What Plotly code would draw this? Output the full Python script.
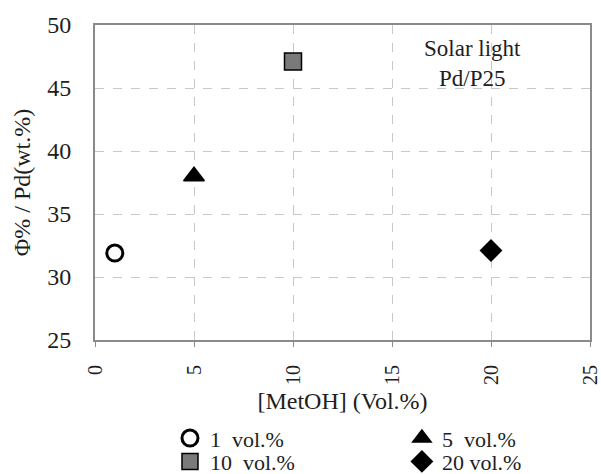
import plotly.graph_objects as go

names = ["1  vol.%", "5  vol.%", "10  vol.%", "20 vol.%"]
x_vals = [1, 5, 10, 20]
y_vals = [31.9, 38.0, 47.1, 32.1]
symbols = ["circle-open", "triangle-up", "square", "diamond"]
fills = ["black", "black", "#7a7a7a", "black"]
sizes = [16, 18, 17, 16]
legend_ids = ["legend", "legend2", "legend3", "legend4"]

FONT = "Liberation Serif"
TXT = "#1e1e1e"
fig = go.Figure()
for n, x, y, s, c, sz, lg in zip(names, x_vals, y_vals, symbols, fills, sizes, legend_ids):
    fig.add_trace(go.Scatter(
        x=[x], y=[y], mode="markers", name=n, legend=lg,
        marker=dict(symbol=s, size=sz, color=c,
                    line=dict(color="black", width=3 if s == "circle-open" else 1.5)),
    ))

def leg(x, y):
    return dict(orientation="v", yanchor="middle", y=y, xanchor="left", x=x,
                font=dict(family=FONT, size=22, color=TXT), itemwidth=30,
                tracegroupgap=0, bgcolor="rgba(0,0,0,0)")

c1, c2 = 0.1515, 0.62
r1, r2 = -0.312, -0.386

fig.update_layout(
    width=601, height=474,
    margin=dict(l=95, r=11, t=25, b=134, autoexpand=False),
    paper_bgcolor="white", plot_bgcolor="white",
    font=dict(family=FONT, size=22, color=TXT),
    showlegend=True,
    legend=leg(c1, r1), legend2=leg(c2, r1),
    legend3=leg(c1, r2), legend4=leg(c2, r2),
    xaxis=dict(range=[0, 25], dtick=5, tickangle=-90, showgrid=True,
               gridcolor="#c8c8c8", griddash="dash", gridwidth=1,
               showline=True, linecolor="#8a8a8a", linewidth=2, mirror=True,
               ticks="outside", ticklen=5, tickcolor="#8a8a8a", zeroline=False,
               ticklabelstandoff=10, tickfont=dict(family=FONT, size=20, color=TXT),
               title=dict(text="[MetOH] (Vol.%)", font=dict(family=FONT, size=24, color=TXT), standoff=8)),
    yaxis=dict(range=[25, 50], dtick=5, showgrid=True,
               gridcolor="#c8c8c8", griddash="dash", gridwidth=1,
               showline=True, linecolor="#8a8a8a", linewidth=2, mirror=True,
               ticks="", zeroline=False, ticklabelstandoff=17,
               tickfont=dict(family=FONT, size=24, color=TXT),
               title=dict(text="Φ% / Pd(wt.%)", font=dict(family=FONT, size=24, color=TXT), standoff=10)),
)
fig.add_annotation(x=0.762, y=0.97, xref="paper", yref="paper",
                   text="Solar light<br>Pd/P25", showarrow=False,
                   xanchor="center", yanchor="top",
                   font=dict(family=FONT, size=23, color=TXT))
fig.write_html("out.html")
